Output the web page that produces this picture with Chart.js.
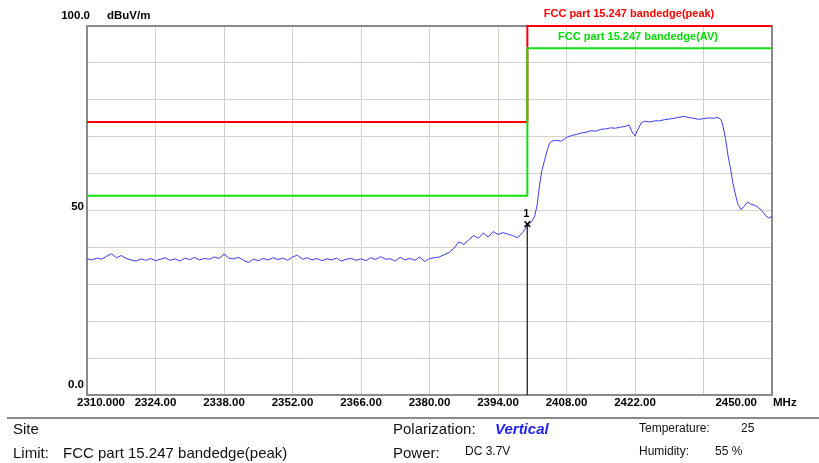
<!DOCTYPE html>
<html>
<head>
<meta charset="utf-8">
<script src="https://cdn.jsdelivr.net/npm/chart.js@4.4.1/dist/chart.umd.min.js"></script>
<style>
  html, body { margin: 0; padding: 0; background: #fff; }
  #wrap { position: relative; width: 819px; height: 463px; }
</style>
</head>
<body>
<div id="wrap"><canvas id="plot" width="819" height="463"></canvas></div>
<script>
// Frequency (MHz) of each trace sample
const freqMHz = [
  2310, 2311, 2312, 2313, 2314, 2315, 2316, 2317, 2318, 2319,
  2320, 2321, 2322, 2323, 2324, 2325, 2326, 2327, 2328, 2329,
  2330, 2331, 2332, 2333, 2334, 2335, 2336, 2337, 2338, 2339,
  2340, 2341, 2342, 2343, 2344, 2345, 2346, 2347, 2348, 2349,
  2350, 2351, 2352, 2353, 2354, 2355, 2356, 2357, 2358, 2359,
  2360, 2361, 2362, 2363, 2364, 2365, 2366, 2367, 2368, 2369,
  2370, 2371, 2372, 2373, 2374, 2375, 2376, 2377, 2378, 2379,
  2380, 2381, 2382, 2383, 2384, 2385, 2386, 2387, 2388, 2389,
  2390, 2391, 2392, 2393, 2394, 2395, 2396, 2397, 2398, 2399,
  2400, 2400.5, 2401, 2401.5, 2402, 2402.5, 2403, 2403.5, 2404, 2404.5,
  2405, 2406, 2407, 2408, 2409, 2410, 2411, 2412, 2413, 2414,
  2415, 2416, 2417, 2418, 2419, 2420, 2420.8, 2421.3, 2422, 2422.6,
  2423.3, 2424, 2425, 2426, 2427, 2428, 2429, 2430, 2431, 2432,
  2433, 2434, 2435, 2436, 2437, 2438, 2439, 2439.6, 2440, 2440.5,
  2441, 2441.5, 2442, 2442.5, 2443, 2443.7, 2444.2, 2445, 2445.7, 2446.5,
  2447.2, 2448, 2448.7, 2449.3, 2450
];
// Measured level (dBuV/m)
const levelDb = [
  36.9, 36.6, 37.1, 36.8, 37.6, 38.3, 37.2, 37.8, 37.0, 36.6,
  36.3, 36.9, 36.5, 37.0, 36.4, 36.8, 37.2, 36.5, 36.9, 36.3,
  37.1, 36.7, 37.3, 36.6, 37.0, 36.8, 37.4, 37.0, 38.2, 37.1,
  36.9, 37.3, 36.5, 35.9, 36.8, 36.4, 37.0, 36.6, 37.2, 36.7,
  37.1, 36.5, 37.4, 37.9, 36.8, 37.2, 36.6, 37.0, 36.4, 36.9,
  36.6, 37.1, 36.3, 36.8, 37.0, 36.5, 36.9, 36.4, 37.2, 36.7,
  37.5, 36.8, 36.9, 36.3, 37.3, 36.6, 37.0, 36.5, 37.4, 36.2,
  37.0, 37.2, 37.4, 38.0, 38.6, 39.8, 41.5, 40.8, 42.0, 43.2,
  42.5, 43.9, 42.8, 44.3, 43.5, 44.0, 43.6, 43.2, 42.6, 44.0,
  45.8, 46.5, 47.2, 48.5, 51.5, 57.0, 61.0, 63.5, 66.0, 68.2,
  68.8, 69.0, 68.8, 69.8, 70.3, 70.6, 71.0, 71.2, 71.6, 71.5,
  72.0, 72.1, 72.4, 72.3, 72.6, 72.8, 73.2, 71.5, 70.2, 72.0,
  73.8, 74.2, 74.0, 74.3, 74.3, 74.6, 74.8, 75.0, 75.3, 75.5,
  75.2, 75.0, 74.7, 74.9, 75.1, 75.0, 75.2, 74.6, 72.8, 69.5,
  65.0, 61.5, 57.5, 54.5, 51.8, 50.2, 51.0, 52.3, 51.7, 51.4,
  50.8, 49.9, 48.6, 48.0, 48.4
];

// Limit lines (step at band edge)
const limitFreq = [2310, 2400, 2400, 2450];
const peakLimit = [74, 74, 100, 100];
const avLimit = [54, 54, 94, 94];

// Marker 1
const markerFreq = 2400;
const markerLevel = 46.3;

const xTickValues = [2310, 2324, 2338, 2352, 2366, 2380, 2394, 2408, 2422, 2436, 2450];
const xTickLabels = ['2310.000', '2324.00', '2338.00', '2352.00', '2366.00', '2380.00', '2394.00', '2408.00', '2422.00', '', '2450.00'];
const yLabelValues = [100, 50, 0];
const yLabelTexts = ['100.0', '50', '0.0'];

const FONT = "'Liberation Sans', Arial, sans-serif";

function toPoints(xs, ys) {
  return xs.map((x, i) => ({ x: x, y: ys[i] }));
}

// frame, axis labels and footer text
const decorations = {
  id: 'decorations',
  beforeDatasetsDraw(chart) {
    const { ctx, chartArea: a } = chart;
    ctx.save();
    ctx.strokeStyle = '#8a8a8a';
    ctx.lineWidth = 2;
    ctx.strokeRect(a.left, a.top, a.right - a.left, a.bottom - a.top);
    ctx.restore();
  },
  afterDatasetsDraw(chart) {
    const { ctx, chartArea: a, scales } = chart;
    const xs = scales.x, ys = scales.y;
    ctx.save();

    // marker label
    const mx = xs.getPixelForValue(markerFreq);
    const my = ys.getPixelForValue(markerLevel);
    ctx.fillStyle = '#000';
    ctx.font = 'bold 11px ' + FONT;
    ctx.textAlign = 'center';
    ctx.textBaseline = 'middle';
    ctx.fillText('1', mx - 1, my - 10);

    // x tick labels
    ctx.font = 'bold 11.5px ' + FONT;
    ctx.textBaseline = 'middle';
    xTickValues.forEach((v, i) => {
      const px = xs.getPixelForValue(v);
      if (i === 0) { ctx.textAlign = 'left'; ctx.fillText(xTickLabels[i], px - 10, a.bottom + 8); }
      else if (i === xTickValues.length - 1) { ctx.textAlign = 'right'; ctx.fillText(xTickLabels[i], px - 15, a.bottom + 8); }
      else { ctx.textAlign = 'center'; ctx.fillText(xTickLabels[i], px, a.bottom + 8); }
    });
    ctx.textAlign = 'left';
    ctx.fillText('MHz', a.right + 1, a.bottom + 8);

    // y labels
    yLabelValues.forEach((v, i) => {
      const py = ys.getPixelForValue(v);
      ctx.textAlign = 'right';
      if (v === 100) ctx.fillText(yLabelTexts[i], a.left + 3, py - 10);
      else if (v === 0) ctx.fillText(yLabelTexts[i], a.left - 3, py - 10);
      else ctx.fillText(yLabelTexts[i], a.left - 3, py - 4);
    });
    ctx.textAlign = 'left';
    ctx.fillText('dBuV/m', a.left + 20, ys.getPixelForValue(100) - 10);

    // limit names
    ctx.font = 'bold 11px ' + FONT;
    ctx.textAlign = 'center';
    ctx.fillStyle = '#ff0000';
    ctx.fillText('FCC part 15.247 bandedge(peak)', 629, 14);
    ctx.fillStyle = '#00dd00';
    ctx.fillText('FCC part 15.247 bandedge(AV)', 638, 37);

    // footer
    ctx.strokeStyle = '#8a8a8a';
    ctx.lineWidth = 2;
    ctx.beginPath();
    ctx.moveTo(7, 418);
    ctx.lineTo(819, 418);
    ctx.stroke();

    ctx.fillStyle = '#111';
    ctx.textAlign = 'left';
    ctx.textBaseline = 'alphabetic';
    ctx.font = '15px ' + FONT;
    ctx.fillText('Site', 13, 434);
    ctx.fillText('Limit:', 13, 458);
    ctx.fillText('FCC part 15.247 bandedge(peak)', 63, 458);
    ctx.fillText('Polarization:', 393, 434);
    ctx.fillText('Power:', 393, 458);
    ctx.font = '12px ' + FONT;
    ctx.fillText('DC 3.7V', 465, 455);
    ctx.fillText('Temperature:', 639, 432);
    ctx.fillText('25', 741, 432);
    ctx.fillText('Humidity:', 639, 455);
    ctx.fillText('55 %', 715, 455);
    ctx.fillStyle = '#2222ee';
    ctx.font = 'italic bold 15px ' + FONT;
    ctx.fillText('Vertical', 495, 434);

    ctx.restore();
  }
};

new Chart(document.getElementById('plot'), {
  type: 'line',
  data: {
    datasets: [
      {
        label: 'Marker',
        data: [{ x: markerFreq, y: markerLevel }],
        showLine: false,
        pointStyle: 'crossRot',
        pointRadius: 4,
        borderColor: '#000',
        borderWidth: 1.5,
        order: 0
      },
      {
        label: 'Marker line',
        data: [{ x: markerFreq, y: markerLevel }, { x: markerFreq, y: 0 }],
        borderColor: '#333',
        borderWidth: 1,
        pointRadius: 0,
        order: 1
      },
      {
        label: 'Trace',
        data: toPoints(freqMHz, levelDb),
        borderColor: '#3b3bf2',
        borderWidth: 1,
        pointRadius: 0,
        tension: 0,
        order: 2
      },
      {
        label: 'FCC part 15.247 bandedge(AV)',
        data: toPoints(limitFreq, avLimit),
        borderColor: '#11e011',
        borderWidth: 2,
        pointRadius: 0,
        clip: 4,
        order: 3
      },
      {
        label: 'FCC part 15.247 bandedge(peak)',
        data: toPoints(limitFreq, peakLimit),
        borderColor: '#ff0000',
        borderWidth: 2,
        pointRadius: 0,
        clip: 4,
        order: 4
      }
    ]
  },
  options: {
    responsive: false,
    animation: false,
    devicePixelRatio: 1,
    layout: { padding: { left: 87, right: 47, top: 26, bottom: 68 } },
    plugins: { legend: { display: false }, tooltip: { enabled: false } },
    scales: {
      x: {
        type: 'linear',
        min: 2310,
        max: 2450,
        afterBuildTicks: s => { s.ticks = xTickValues.map(v => ({ value: v })); },
        afterFit: s => { s.height = 0; },
        ticks: { display: false },
        grid: { color: '#d6d2cb', lineWidth: 1, drawTicks: false },
        border: { display: false }
      },
      y: {
        min: 0,
        max: 100,
        afterFit: s => { s.width = 0; },
        ticks: { display: false, stepSize: 10 },
        grid: { color: '#d6d2cb', lineWidth: 1, drawTicks: false },
        border: { display: false }
      }
    }
  },
  plugins: [decorations]
});
</script>
</body>
</html>
